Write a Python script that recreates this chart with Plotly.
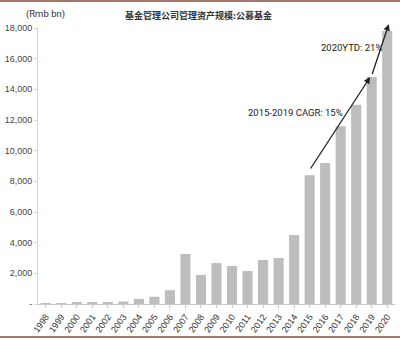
import plotly.graph_objects as go

years = [str(y) for y in range(1998, 2021)]
aum = [10, 50, 85, 80, 130, 160, 330, 470, 900, 3260, 1900, 2670, 2480, 2150,
       2870, 3000, 4500, 8400, 9190, 11600, 13000, 14800, 17800]
ytick_vals = [0, 2000, 4000, 6000, 8000, 10000, 12000, 14000, 16000, 18000]
ytick_text = ["-", "2,000", "4,000", "6,000", "8,000", "10,000", "12,000", "14,000", "16,000", "18,000"]
title_text = "基金管理公司管理资产规模:公募基金"
unit_text = "(Rmb bn)"
cagr_text = "2015-2019 CAGR: 15%"
ytd_text = "2020YTD: 21%"

fig = go.Figure()
fig.add_trace(go.Bar(x=years, y=aum, marker=dict(color="#bdbdbd", line=dict(width=0))))

font_lat = "Roboto, Liberation Sans, Arial"

fig.update_layout(
    width=400, height=340,
    margin=dict(l=35, r=5, t=28, b=36),
    paper_bgcolor="white", plot_bgcolor="white",
    bargap=0.35, showlegend=False,
    font=dict(family="Liberation Sans, Arial", size=9, color="#333"),
    xaxis=dict(type="category", tickangle=-55, showline=True, linecolor="#c8c8c8",
               ticks="outside", ticklen=3, tickcolor="#c8c8c8", tickfont=dict(size=9, color="#333"),
               showgrid=False, zeroline=False, fixedrange=True),
    yaxis=dict(range=[0, 18000], tickvals=ytick_vals, ticktext=ytick_text, showline=True,
               linecolor="#d6d6d6", ticks="outside", ticklen=3, tickcolor="#d6d6d6",
               tickfont=dict(size=9, color="#444"), showgrid=False, zeroline=False),
    annotations=[
        dict(text="<b>" + title_text + "</b>", xref="paper", yref="paper", x=0.45, y=1.045, showarrow=False,
             font=dict(family="Noto Sans CJK SC", size=9, color="#333"), xanchor="center", yanchor="middle"),
        dict(text=unit_text, xref="paper", yref="paper", x=0.022, y=1.05, showarrow=False,
             font=dict(family=font_lat, size=9.5, color="#333"), xanchor="center", yanchor="middle"),
        dict(text=cagr_text, x=16.1, y=12520, xref="x", yref="y", showarrow=False,
             font=dict(family=font_lat, size=9.5, color="#222")),
        dict(text=ytd_text, x=19.7, y=16760, xref="x", yref="y", showarrow=False,
             font=dict(family=font_lat, size=9.5, color="#222")),
        dict(x=20.9, y=14800, ax=17.0, ay=8740, xref="x", yref="y", axref="x", ayref="y",
             text="", showarrow=True, arrowhead=2, arrowsize=1, arrowwidth=1.3, arrowcolor="#222"),
        dict(x=22.1, y=18250, ax=21.0, ay=14900, xref="x", yref="y", axref="x", ayref="y",
             text="", showarrow=True, arrowhead=2, arrowsize=1, arrowwidth=1.3, arrowcolor="#222"),
    ],
    shapes=[
        dict(type="line", xref="paper", yref="paper", x0=-0.2, x1=1.1, y0=1.098, y1=1.098,
             line=dict(color="#a0786c", width=2)),
        dict(type="line", xref="paper", yref="paper", x0=-0.2, x1=1.1, y0=-0.12, y1=-0.12,
             line=dict(color="#a0786c", width=2)),
    ],
)

fig.write_html("out.html")
